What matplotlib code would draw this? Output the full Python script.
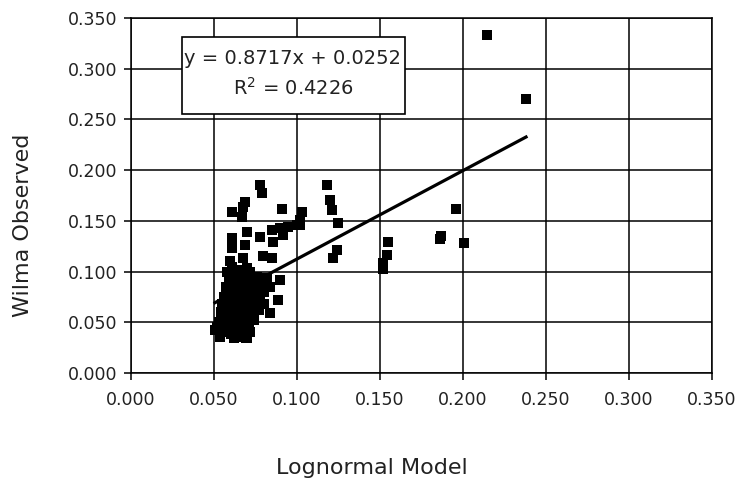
import matplotlib.pyplot as plt
from matplotlib.patches import Rectangle

# Lognormal model (x) vs Wilma observed (y)
lognormal_model = [
    0.2145, 0.238, 0.196, 0.186, 0.187, 0.2006,
    0.118, 0.120, 0.121, 0.125, 0.124, 0.122, 0.103, 0.102,
    0.155, 0.154, 0.152, 0.152,
    0.0777, 0.0787, 0.0687, 0.0675, 0.0607, 0.0667, 0.0908, 0.0697,
    0.0848, 0.0898, 0.0946, 0.0998, 0.0607, 0.0607, 0.0596, 0.0687,
    0.0675, 0.0777, 0.0855, 0.0795, 0.0848, 0.0916, 0.1018,
    0.0898, 0.0837, 0.0886, 0.0837, 0.080, 0.082,
    0.0506, 0.0536, 0.0697, 0.0637,
    0.052, 0.053, 0.054, 0.055, 0.056, 0.056, 0.057, 0.057, 0.058, 0.058,
    0.059, 0.059, 0.060, 0.060, 0.061, 0.061, 0.062, 0.062, 0.063, 0.063,
    0.064, 0.064, 0.065, 0.065, 0.066, 0.066, 0.067, 0.067, 0.068, 0.068,
    0.069, 0.070, 0.070, 0.071, 0.072, 0.072, 0.073, 0.074, 0.075, 0.076,
    0.077, 0.078, 0.062, 0.069, 0.058, 0.061, 0.066,
    0.054, 0.055, 0.056, 0.057, 0.059, 0.060, 0.063, 0.064, 0.066, 0.068,
    0.070, 0.071, 0.073, 0.074, 0.075, 0.076, 0.078, 0.079, 0.080, 0.072,
    0.070, 0.058, 0.061, 0.065, 0.067, 0.069, 0.064, 0.062, 0.061, 0.060,
]
wilma_observed = [
    0.333, 0.270, 0.162, 0.132, 0.135, 0.128,
    0.185, 0.171, 0.161, 0.148, 0.121, 0.113, 0.159, 0.146,
    0.129, 0.116, 0.108, 0.103,
    0.185, 0.177, 0.169, 0.164, 0.159, 0.154, 0.162, 0.139,
    0.141, 0.143, 0.144, 0.146, 0.133, 0.123, 0.110, 0.126,
    0.113, 0.134, 0.129, 0.115, 0.113, 0.136, 0.151,
    0.092, 0.085, 0.072, 0.059, 0.068, 0.094,
    0.042, 0.036, 0.0345, 0.0375,
    0.045, 0.050, 0.042, 0.055, 0.048, 0.062, 0.040, 0.070, 0.053, 0.078,
    0.045, 0.065, 0.085, 0.038, 0.058, 0.072, 0.092, 0.050, 0.080, 0.042,
    0.066, 0.100, 0.055, 0.088, 0.074, 0.036, 0.060, 0.095, 0.083, 0.047,
    0.070, 0.058, 0.090, 0.078, 0.040, 0.065, 0.086, 0.052, 0.072, 0.095,
    0.062, 0.082, 0.035, 0.035, 0.100, 0.105, 0.102,
    0.060, 0.068, 0.075, 0.085, 0.092, 0.098, 0.060, 0.045, 0.052, 0.065,
    0.045, 0.050, 0.060, 0.068, 0.080, 0.085, 0.072, 0.090, 0.080, 0.100,
    0.104, 0.040, 0.043, 0.040, 0.078, 0.090, 0.085, 0.075, 0.064, 0.052,
]

# Excel linear trendline
slope = 0.8717
intercept = 0.0252
r_squared = 0.4226

ticks = [0.0, 0.05, 0.10, 0.15, 0.20, 0.25, 0.30, 0.35]
tick_labels = ['0.000', '0.050', '0.100', '0.150', '0.200', '0.250', '0.300', '0.350']

fig = plt.figure(figsize=(7.48, 4.82), dpi=100)
ax = fig.add_axes([0.1751, 0.2261, 0.7767, 0.7366])

# trendline first, the markers cover its start inside the cluster
x0, x1 = min(lognormal_model), max(lognormal_model)
ax.plot([x0, x1], [slope * x0 + intercept, slope * x1 + intercept],
        color='black', lw=2.3, zorder=3)
ax.scatter(lognormal_model, wilma_observed, marker='s', s=60, color='black',
           linewidths=0, zorder=4)

ax.set_xlim(0, 0.35)
ax.set_ylim(0, 0.35)
ax.set_xticks(ticks)
ax.set_yticks(ticks)
ax.set_xticklabels(tick_labels)
ax.set_yticklabels(tick_labels)
ax.grid(True, color='black', lw=1.1)
for s in ax.spines.values():
    s.set_color('black')
    s.set_linewidth(1.1)
ax.tick_params(direction='out', length=5, width=1.1, labelsize=12.5,
               colors='black', labelcolor='#222222', pad=5)
ax.tick_params(axis='x', pad=8)

# equation box
ax.add_patch(Rectangle((182 / 748, 1 - 114 / 482), 223 / 748, 77 / 482,
                       transform=fig.transFigure, facecolor='white',
                       edgecolor='black', lw=1.2, zorder=5))
fig.text(293 / 748, 1 - 59 / 482, 'y = %.4fx + %.4f' % (slope, intercept),
         ha='center', va='center', fontsize=14, color='#222222', zorder=6)
fig.text(293 / 748, 1 - 88 / 482, 'R$^2$ = %.4f' % r_squared,
         ha='center', va='center', fontsize=14, color='#222222', zorder=6)

fig.text(372 / 748, 1 - 468 / 482, 'Lognormal Model', ha='center', va='center',
         fontsize=16, color='#222222')
fig.text(23 / 748, 1 - 225 / 482, 'Wilma Observed', ha='center', va='center',
         rotation=90, fontsize=16, color='#222222')

plt.savefig('out.png', dpi=100)
